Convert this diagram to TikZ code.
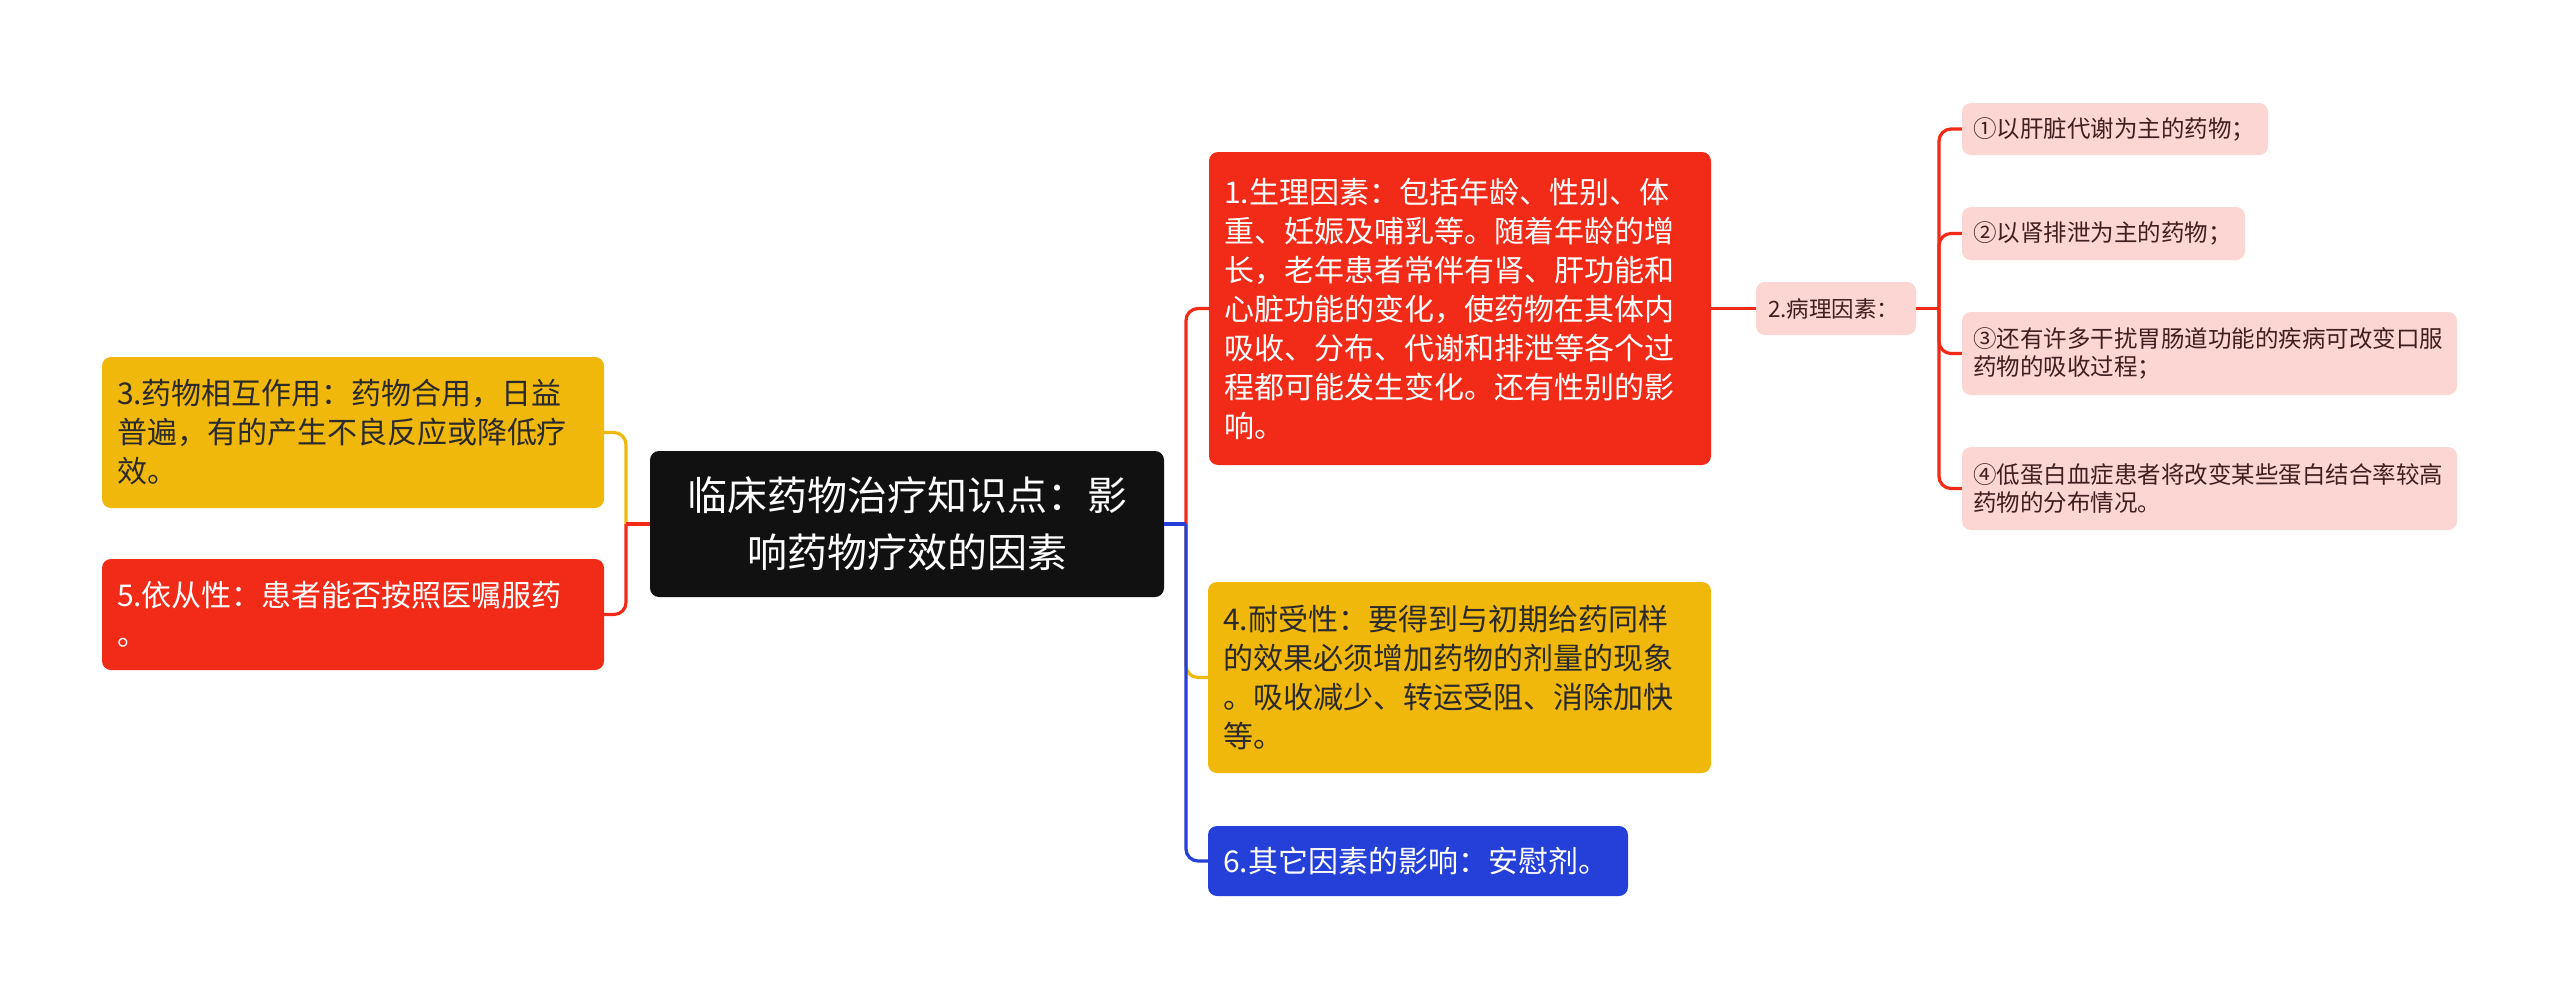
\documentclass[tikz,border=0pt]{standalone}
\usepackage{fontspec}
\setmainfont{Noto Sans CJK SC}
\newcommand\fsz[2]{\fontsize{#1}{#2}\selectfont}
\definecolor{redc}{HTML}{F22A18}
\definecolor{yelc}{HTML}{F0B80B}
\definecolor{bluc}{HTML}{2540D9}
\definecolor{pinkc}{HTML}{FCD6D3}
\definecolor{blkc}{HTML}{111111}
\definecolor{darktxt}{HTML}{2A2A2A}
\definecolor{pinktxt}{HTML}{3F1F1F}
\begin{document}
\begin{tikzpicture}[x=1pt,y=-1pt,
  mainbox/.style={rounded corners=9pt, inner ysep=0pt, inner xsep=15pt, align=left, font=\fsz{30}{39}},
  subbox/.style={rounded corners=9pt, inner ysep=0pt, inner xsep=11pt, align=left, fill=pinkc, text=pinktxt, font=\fsz{23.5}{28.5}},
  conn/.style={line width=3.2pt},
  rconn/.style={line width=3.2pt, rounded corners=12pt}]
\useasboundingbox (0,0) rectangle (2560,998);
\fill[white] (0,0) rectangle (2560,998);

% central
\node[rounded corners=9pt, inner ysep=0pt, inner xsep=30pt, align=center, fill=blkc, text=white,
      text width=454pt, minimum height=146pt, font=\fsz{40}{57}] (C) at (907,524)
  {临床药物治疗知识点：影\\响药物疗效的因素};

% left
\node[mainbox, fill=yelc, text=darktxt, text width=472pt, minimum height=151pt] (B3) at (353,432.5)
  {3.药物相互作用：药物合用，日益\\普遍，有的产生不良反应或降低疗\\效。};
\node[mainbox, fill=redc, text=white, text width=472pt, minimum height=111pt] (B5) at (353,614.5)
  {5.依从性：患者能否按照医嘱服药\\。};

% right
\node[mainbox, fill=redc, text=white, text width=472pt, minimum height=313pt] (B1) at (1460,308.5)
  {1.生理因素：包括年龄、性别、体\\重、妊娠及哺乳等。随着年龄的增\\长，老年患者常伴有肾、肝功能和\\心脏功能的变化，使药物在其体内\\吸收、分布、代谢和排泄等各个过\\程都可能发生变化。还有性别的影\\响。};
\node[mainbox, fill=yelc, text=darktxt, text width=473pt, minimum height=191pt] (B4) at (1459.5,677.5)
  {4.耐受性：要得到与初期给药同样\\的效果必须增加药物的剂量的现象\\。吸收减少、转运受阻、消除加快\\等。};
\node[mainbox, fill=bluc, text=white, text width=390pt, minimum height=70pt] (B6) at (1418,861)
  {6.其它因素的影响：安慰剂。};

% pathology
\node[subbox, inner xsep=12pt, text width=136pt, minimum height=53pt, font=\fsz{22.5}{27}] (B2) at (1836,308.5)
  {2.病理因素：};
\node[subbox, text width=284pt, minimum height=52pt] (S1) at (2115,129)
  {①以肝脏代谢为主的药物；};
\node[subbox, text width=261pt, minimum height=53pt] (S2) at (2103.5,233.5)
  {②以肾排泄为主的药物；};
\node[subbox, text width=473pt, minimum height=83pt] (S3) at (2209.5,353.5)
  {③还有许多干扰胃肠道功能的疾病可改变口服\\药物的吸收过程；};
\node[subbox, text width=473pt, minimum height=83pt] (S4) at (2209.5,488.5)
  {④低蛋白血症患者将改变某些蛋白结合率较高\\药物的分布情况。};

% junction coordinates
\coordinate (lj) at (626,524);
\coordinate (rj) at (1186,524);
\coordinate (pj) at (1939,308.5);

% left connectors
\draw[rconn, yelc] (lj) |- (B3.east);
\draw[rconn, redc] (lj) |- (B5.east);
\draw[conn, redc] (C.west) -- (lj);

% right connectors
\draw[rconn, redc] (rj) |- (B1.west);
\draw[rconn, yelc] (rj) |- (B4.west);
\draw[rconn, bluc] (rj) |- (B6.west);
\draw[conn, bluc] (C.east) -- (rj);

% pathology connectors
\draw[conn, redc] (B1.east) -- (B2.west);
\draw[conn, redc] (B2.east) -- (pj);
\draw[rconn, redc] (pj) |- (S1.west);
\draw[rconn, redc] (pj) |- (S2.west);
\draw[rconn, redc] (pj) |- (S3.west);
\draw[rconn, redc] (pj) |- (S4.west);
\end{tikzpicture}
\end{document}
